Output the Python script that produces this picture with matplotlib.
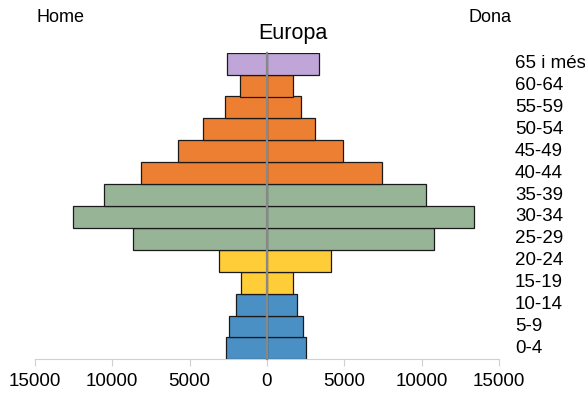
import matplotlib.pyplot as plt
import numpy as np
from matplotlib.transforms import blended_transform_factory

plt.rcParams['font.family'] = ['Liberation Sans', 'DejaVu Sans']

# age groups, bottom to top
groups = ['0-4', '5-9', '10-14', '15-19', '20-24', '25-29', '30-34',
          '35-39', '40-44', '45-49', '50-54', '55-59', '60-64', '65 i més']
home = [2668, 2455, 2000, 1680, 3077, 8676, 12510,
        10530, 8115, 5750, 4110, 2733, 1744, 2603]
dona = [2520, 2326, 1940, 1705, 4160, 10770, 13398,
        10297, 7410, 4890, 3125, 2222, 1705, 3340]
colors = ['#4A90C4'] * 3 + ['#FFCD38'] * 2 + ['#97B497'] * 3 + ['#ED7F32'] * 5 + ['#C0A6D8']
xticks = [-15000, -10000, -5000, 0, 5000, 10000, 15000]

fig = plt.figure(figsize=(5.85, 3.94), dpi=100)
ax = fig.add_axes([34.7 / 585, 1 - 359.3 / 394, (499.3 - 34.7) / 585, (359.3 - 52.7) / 394])

y = np.arange(len(groups))
ax.barh(y, [-v for v in home], height=1.0, color=colors, edgecolor='#1a1a1a', linewidth=0.9, zorder=2)
ax.barh(y, dona, height=1.0, color=colors, edgecolor='#1a1a1a', linewidth=0.9, zorder=2)

ax.set_xlim(-15000, 15000)
ax.set_ylim(-0.5, len(groups) - 0.5)

# x axis
ax.set_xticks(xticks)
ax.set_xticklabels([str(abs(t)) for t in xticks], fontsize=13.5)
ax.spines['bottom'].set_color('#d0d0d0')
ax.tick_params(axis='x', direction='out', length=5, color='#d0d0d0', pad=5)

# center line with small notches
ax.spines['left'].set_position(('data', 0))
ax.spines['left'].set_color('#888888')
ax.spines['left'].set_linewidth(1.6)
ax.spines['left'].set_zorder(3)
ax.set_yticks(np.arange(0.5, len(groups) - 1, 1.0))
ax.set_yticklabels([])
ax.tick_params(axis='y', direction='out', length=4, width=1.5, color='#888888')
ax.spines['right'].set_visible(False)
ax.spines['top'].set_visible(False)

lab_tr = blended_transform_factory(fig.transFigure, ax.transData)
for i, g in enumerate(groups):
    ax.text(515 / 585, i, g, transform=lab_tr, fontsize=13.5, va='center', ha='left')

fig.text(292.5 / 585, 1 - 33 / 394, 'Europa', fontsize=15.5, ha='center', va='center')
fig.text(37 / 585, 1 - 17 / 394, 'Home', fontsize=13, ha='left', va='center')
fig.text(469 / 585, 1 - 17 / 394, 'Dona', fontsize=13, ha='left', va='center')

fig.savefig('out.png', dpi=100)
